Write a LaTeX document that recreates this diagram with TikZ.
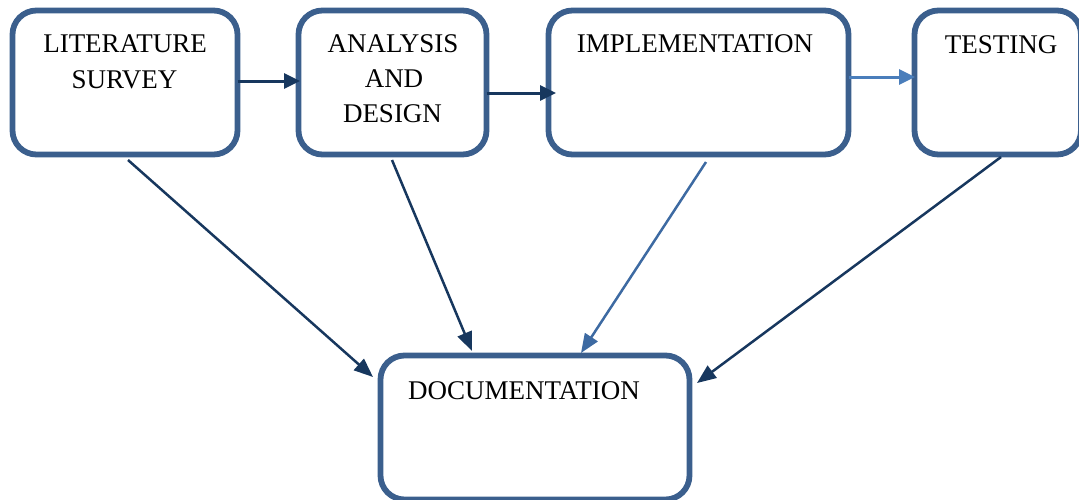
\documentclass[tikz,border=0pt]{standalone}
\usepackage{fontspec}
\setmainfont{Liberation Serif}
\usetikzlibrary{arrows.meta}
\definecolor{boxc}{HTML}{3B5F8D}
\definecolor{darkarr}{HTML}{17375E}
\definecolor{midarr}{HTML}{3D6AA2}
\definecolor{lightarr}{HTML}{4A7EBB}
\tikzset{
  stage/.style={draw=boxc, line width=5.8pt, rounded corners=24pt, inner sep=0pt, outer sep=0pt},
  lbl/.style={anchor=base, inner sep=0pt, font=\fontsize{27pt}{35pt}\selectfont},
  hflow/.style={line width=3pt, -{Triangle[length=16pt,width=15pt]}},
  dflow/.style={line width=2.5pt, -{Triangle[length=19pt,width=15pt]}}
}
\begin{document}
\begin{tikzpicture}[x=1pt,y=-1pt]
\useasboundingbox (0,0) rectangle (1079,499);
\node[stage, minimum width=225pt, minimum height=144pt] (lit) at (125,82.5) {};
\node[stage, minimum width=188pt, minimum height=144pt] (ana) at (392.5,82.5) {};
\node[stage, minimum width=300pt, minimum height=144pt] (impl) at (698.5,82.5) {};
\node[stage, minimum width=166.5pt, minimum height=144pt] (test) at (997.75,82.5) {};
\node[stage, minimum width=309pt, minimum height=144pt] (doc) at (535,427.5) {};

\node[lbl] (lit1) at (125,52) {LITERATURE};
\node[lbl] (lit2) at (124.5,88) {SURVEY};
\node[lbl] (ana1) at (393,52) {ANALYSIS};
\node[lbl] (ana2) at (394,87) {AND};
\node[lbl] (ana3) at (392.5,122) {DESIGN};
\node[lbl] (impl1) at (695,52) {IMPLEMENTATION};
\node[lbl] (test1) at (1001,53) {TESTING};
\node[lbl] (doc1) at (524,399) {DOCUMENTATION};

\draw[hflow, darkarr] ([yshift=1.5pt]lit.east) -- ([yshift=1.5pt,xshift=1.5pt]ana.west);
\draw[hflow, darkarr] ([yshift=-10.5pt]ana.east) -- ([yshift=-10.5pt,xshift=7.5pt]impl.west);
\draw[hflow, lightarr] ([yshift=5.5pt]impl.east) -- ([yshift=5.5pt,xshift=0.5pt]test.west);

\draw[dflow, darkarr] ([xshift=3pt,yshift=-5.5pt]lit.south) -- ([xshift=-7.5pt,yshift=-21.5pt]doc.north west);
\draw[dflow, darkarr] ([xshift=-0.5pt,yshift=-5.5pt]ana.south) -- ([xshift=-63pt,yshift=4.5pt]doc.north);
\draw[dflow, midarr] ([xshift=7.5pt,yshift=-7.5pt]impl.south) -- ([xshift=46pt,yshift=2.5pt]doc.north);
\draw[dflow, darkarr] ([xshift=3.25pt,yshift=-2.5pt]test.south) -- ([xshift=7.5pt,yshift=-27.5pt]doc.north east);
\end{tikzpicture}
\end{document}
